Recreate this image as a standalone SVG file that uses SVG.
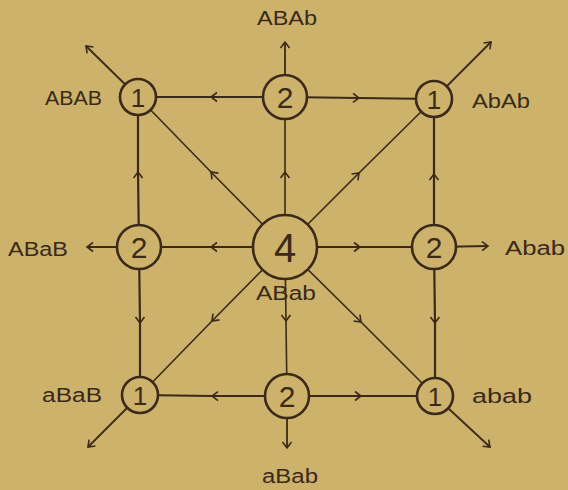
<svg xmlns="http://www.w3.org/2000/svg" width="568" height="490" viewBox="0 0 568 490">
<defs>
<style>
.bg{fill:#cdb26c}
.e{fill:none;stroke:#3a2a17;stroke-width:2.2;marker-mid:url(#chev)}
.d{fill:none;stroke:#3a2a17;stroke-width:1.6;marker-mid:url(#chev)}
.o{fill:none;stroke:#3a2a17;stroke-width:1.8;marker-end:url(#chev)}
.n circle{fill:#cdb26c;stroke:#3a2a17;stroke-width:2.6}
.n text{font-family:"Liberation Sans",Arial,sans-serif;fill:#3a2a17;text-anchor:middle}
.lab{font-family:"Liberation Sans",Arial,sans-serif;font-size:20px;fill:#3a2a17}
</style>
<marker id="chev" markerUnits="userSpaceOnUse" markerWidth="14" markerHeight="14" refX="0" refY="0" orient="auto" overflow="visible" viewBox="-7 -7 14 14">
<path d="M-6,-4.5 L0,0 L-6,4.5" fill="none" stroke="#3a2a17" stroke-width="1.6"/>
</marker>
</defs>
<rect class="bg" x="0" y="0" width="568" height="490"/>
<g id="connectors">
<path class="e" d="M285,97 L211,97 L138,97"/>
<path class="e" d="M285,97 L359,98 L434,99"/>
<path class="e" d="M139,247 L138,172 L138,97"/>
<path class="e" d="M139,247 L140,323 L140,395"/>
<path class="e" d="M434,247 L434,174 L434,99"/>
<path class="e" d="M434,247 L435,323 L435,396"/>
<path class="e" d="M287,396 L212,396 L140,395"/>
<path class="e" d="M287,396 L361,396 L435,396"/>
<path class="e" d="M285,247 L211,247 L139,247"/>
<path class="e" d="M285,247 L360,247 L434,247"/>
<path class="d" d="M285,247 L285,172 L285,97"/>
<path class="d" d="M285,247 L286,321 L287,396"/>
<path class="d" d="M285,247 L211,172 L138,97"/>
<path class="d" d="M285,247 L359,173 L434,99"/>
<path class="d" d="M285,247 L212,321 L140,395"/>
<path class="d" d="M285,247 L361,322 L435,396"/>
<path class="o" d="M138,97 L86,46"/>
<path class="o" d="M285,97 L285,42"/>
<path class="o" d="M434,99 L491,42"/>
<path class="o" d="M139,247 L87,247"/>
<path class="o" d="M434,247 L488,246"/>
<path class="o" d="M140,395 L88,447"/>
<path class="o" d="M287,396 L287,448"/>
<path class="o" d="M435,396 L490,447"/>
</g>
<g id="n-tl" class="n"><circle cx="138" cy="97" r="18"/><text x="138" y="107" font-size="26">1</text></g>
<g id="n-tm" class="n"><circle cx="285" cy="97" r="22"/><text x="285" y="108" font-size="30">2</text></g>
<g id="n-tr" class="n"><circle cx="434" cy="99" r="18"/><text x="434" y="109" font-size="26">1</text></g>
<g id="n-ml" class="n"><circle cx="139" cy="247" r="22"/><text x="139" y="258" font-size="30">2</text></g>
<g id="n-c" class="n"><circle cx="285" cy="247" r="32"/><text x="285" y="262" font-size="40">4</text></g>
<g id="n-mr" class="n"><circle cx="434" cy="247" r="22"/><text x="434" y="258" font-size="30">2</text></g>
<g id="n-bl" class="n"><circle cx="140" cy="395" r="18"/><text x="140" y="405" font-size="26">1</text></g>
<g id="n-bm" class="n"><circle cx="287" cy="396" r="22"/><text x="287" y="407" font-size="30">2</text></g>
<g id="n-br" class="n"><circle cx="435" cy="396" r="18"/><text x="435" y="406" font-size="26">1</text></g>
<g id="labels">
<text class="lab" x="45" y="105" textLength="57" lengthAdjust="spacingAndGlyphs">ABAB</text>
<text class="lab" x="257" y="25" textLength="60" lengthAdjust="spacingAndGlyphs">ABAb</text>
<text class="lab" x="472" y="108" textLength="58" lengthAdjust="spacingAndGlyphs">AbAb</text>
<text class="lab" x="8" y="256" textLength="60" lengthAdjust="spacingAndGlyphs">ABaB</text>
<text class="lab" x="505" y="255" textLength="60" lengthAdjust="spacingAndGlyphs">Abab</text>
<text class="lab" x="256" y="300" textLength="60" lengthAdjust="spacingAndGlyphs">ABab</text>
<text class="lab" x="42" y="402" textLength="60" lengthAdjust="spacingAndGlyphs">aBaB</text>
<text class="lab" x="472" y="403" textLength="60" lengthAdjust="spacingAndGlyphs">abab</text>
<text class="lab" x="262" y="483" textLength="56" lengthAdjust="spacingAndGlyphs">aBab</text>
</g>
</svg>
